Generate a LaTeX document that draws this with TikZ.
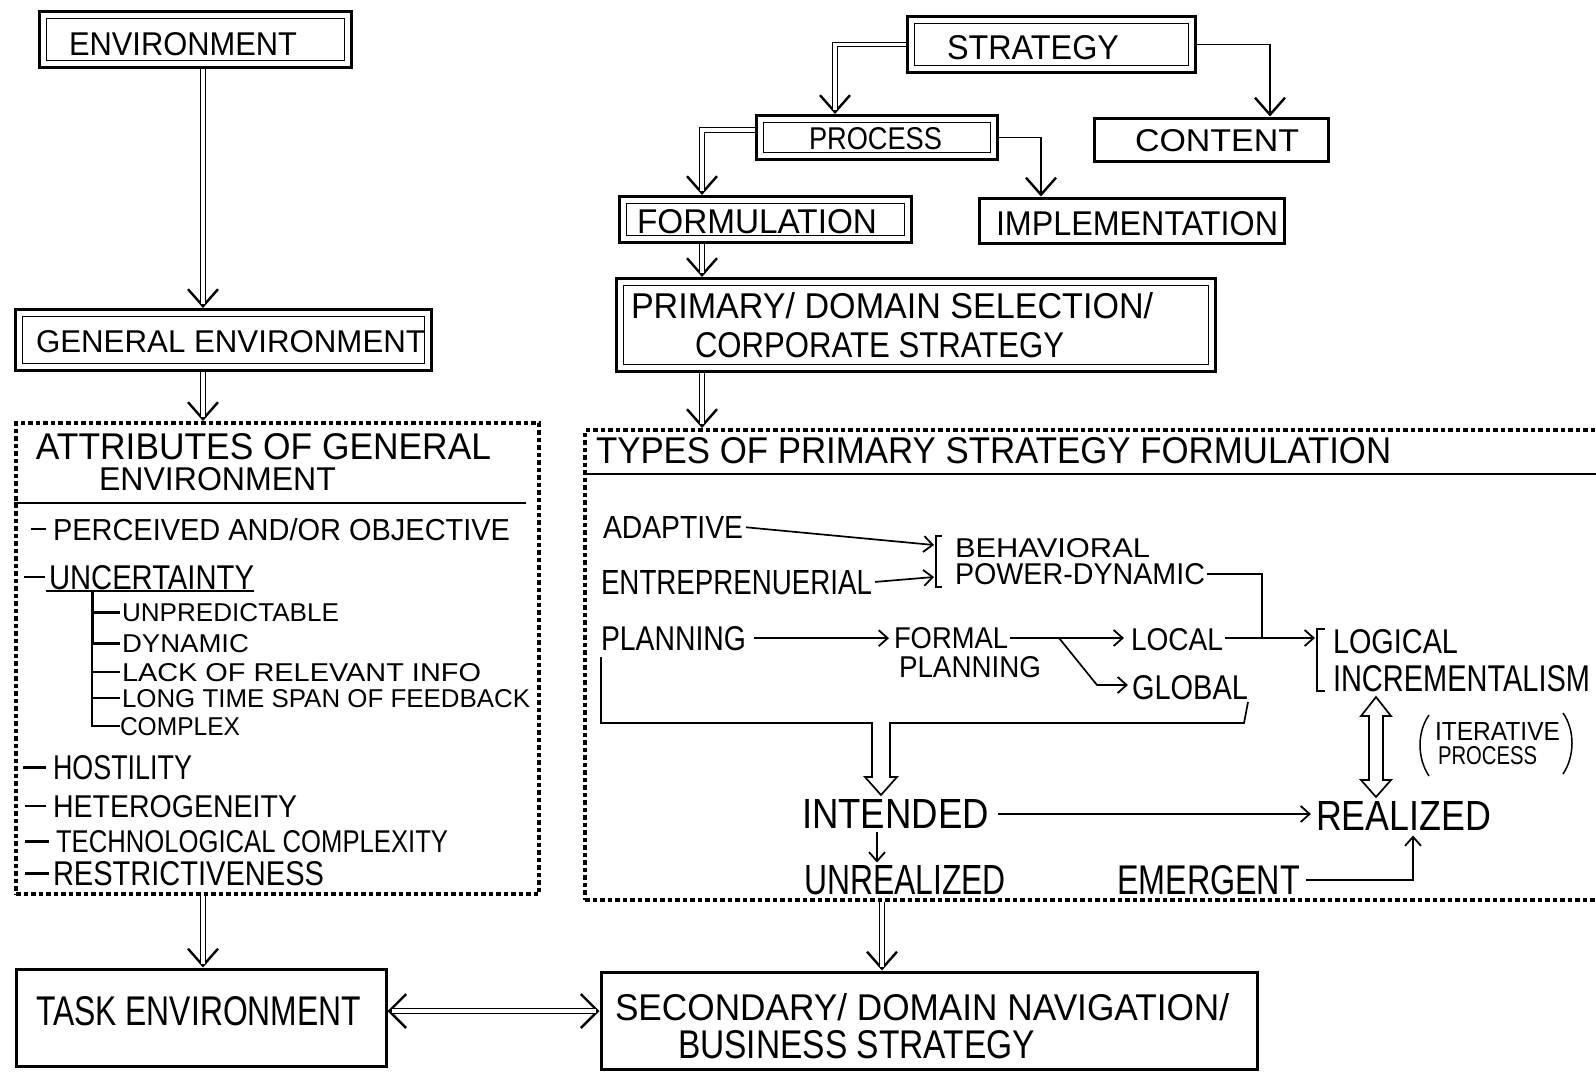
\documentclass[tikz,border=0pt]{standalone}
\usepackage{fontspec}
\setmainfont{Liberation Sans}
\usepackage{graphicx}
\usetikzlibrary{arrows.meta}
% text set to a given width and cap height (in pt)
\newcommand\fitt[3]{\resizebox{#1pt}{#2pt}{#3}}
% double-line connector with an open V head
\newcommand\dblcon[1]{\draw[vtipline] #1; \draw[dshaft] #1;}
\tikzset{
  dbox/.style={draw, line width=3pt, inner sep=0pt, outer sep=1.5pt,
    path picture={\draw[line width=1.4pt]
      ([shift={(7pt,-7pt)}]path picture bounding box.north west) rectangle
      ([shift={(-7pt,7pt)}]path picture bounding box.south east);}},
  sbox/.style={draw, line width=3pt, inner sep=0pt, outer sep=1.5pt},
  dotbox/.style={draw, line width=4pt, dash pattern=on 4.5pt off 3pt, inner sep=0pt, outer sep=2pt},
  txt/.style={anchor=base west, inner sep=0pt, outer sep=0pt},
  bigtip/.style={-{Straight Barb[length=17pt,width=30pt,line width=2.4pt]}},
  vtipline/.style={line width=1.2pt, bigtip},
  dshaft/.style={line width=1.1pt, double=white, double distance=3.2pt, shorten >=4pt},
  sarrow/.style={line width=1.4pt, bigtip},
  iline/.style={line width=1.7pt, line join=miter},
  iarrow/.style={line width=1.7pt, -{Straight Barb[length=9pt,width=16pt,line width=1.8pt]}},
}
\begin{document}
\begin{tikzpicture}[x=1pt, y=-1pt]
\fill[white] (0,0) rectangle (1596,1072);
\useasboundingbox (0,0) rectangle (1596,1072);

% ---------- boxes ----------
\node[dbox, minimum width=312pt, minimum height=56pt] (envbox) at (195.5,39.5) {};
\node[dbox, minimum width=416pt, minimum height=61pt] (genvbox) at (223.5,340) {};
\node[dotbox, minimum width=523pt, minimum height=471pt] (attrbox) at (277.5,658.5) {};
\node[sbox, minimum width=370pt, minimum height=97pt] (taskbox) at (201,1017.5) {};

\node[dbox, minimum width=288pt, minimum height=56pt] (stratbox) at (1051.5,44.5) {};
\node[dbox, minimum width=241pt, minimum height=44pt] (procbox) at (877,137.5) {};
\node[sbox, minimum width=234pt, minimum height=43pt] (contentbox) at (1211,139.5) {};
\node[dbox, minimum width=292pt, minimum height=46pt] (formbox) at (765.5,219.5) {};
\node[sbox, minimum width=305pt, minimum height=45pt] (implbox) at (1131.5,220.5) {};
\node[dbox, minimum width=599pt, minimum height=93pt] (primbox) at (916,325) {};
\node[dotbox, minimum width=1035pt, minimum height=470pt] (typesbox) at (1102.5,665) {};
\node[sbox, minimum width=656pt, minimum height=97pt] (secbox) at (929,1020.5) {};

% ---------- box labels ----------
\node[txt] (tenv) at (69,55.5) {\fitt{228}{23}{ENVIRONMENT}};
\node[txt] (tgenv) at (36,352) {\fitt{389}{22}{GENERAL ENVIRONMENT}};
\node[txt] (tstrat) at (947,59) {\fitt{172}{24}{STRATEGY}};
\node[txt] (tproc) at (809,149) {\fitt{133}{22}{PROCESS}};
\node[txt] (tcontent) at (1135,151) {\fitt{164}{22}{CONTENT}};
\node[txt] (tform) at (637,233) {\fitt{240}{24}{FORMULATION}};
\node[txt] (timpl) at (996,235) {\fitt{282}{24}{IMPLEMENTATION}};
\node[txt] (tprim1) at (631,318) {\fitt{522}{26}{PRIMARY/ DOMAIN SELECTION/}};
\node[txt] (tprim2) at (695,357.5) {\fitt{369}{25}{CORPORATE STRATEGY}};
\node[txt] (ttask) at (36,1025.5) {\fitt{325}{29}{TASK ENVIRONMENT}};
\node[txt] (tsec1) at (615,1020) {\fitt{614}{27}{SECONDARY/ DOMAIN NAVIGATION/}};
\node[txt] (tsec2) at (678,1058) {\fitt{357}{28}{BUSINESS STRATEGY}};

% ---------- attributes of the general environment ----------
\node[txt] (tattr1) at (36,459) {\fitt{455}{26}{ATTRIBUTES OF GENERAL}};
\node[txt] (tattr2) at (99,490.5) {\fitt{237}{23}{ENVIRONMENT}};
\draw[line width=2.6pt] (attrbox.west |- 0,503) -- (526,503);

\node[txt] (perc) at (53,540) {\fitt{457}{22}{PERCEIVED AND/OR OBJECTIVE}};
\node[txt] (unc) at (49,589) {\fitt{205}{24}{UNCERTAINTY}};
\node[txt] (unpr) at (122,621) {\fitt{217}{18}{UNPREDICTABLE}};
\node[txt] (dyn) at (122,652) {\fitt{127}{18}{DYNAMIC}};
\node[txt] (lack) at (122,681) {\fitt{359}{18}{LACK OF RELEVANT INFO}};
\node[txt] (long) at (122,707) {\fitt{408}{18}{LONG TIME SPAN OF FEEDBACK}};
\node[txt] (cmplx) at (120,735) {\fitt{120}{18}{COMPLEX}};
\node[txt] (host) at (53,779) {\fitt{139}{24}{HOSTILITY}};
\node[txt] (hetero) at (53,817) {\fitt{244}{22}{HETEROGENEITY}};
\node[txt] (techc) at (56,852) {\fitt{392}{22}{TECHNOLOGICAL COMPLEXITY}};
\node[txt] (restr) at (53,885) {\fitt{271}{24}{RESTRICTIVENESS}};

% item dashes
\draw[line width=1.6pt] (31,529) -- (46,529);
\draw[line width=1.6pt] (24,577) -- (45,577);
\draw[line width=3pt] (23,767) -- (46,767);
\draw[line width=1.6pt] (25,806) -- (46,806);
\draw[line width=3pt] (25,841) -- (49,841);
\draw[line width=3pt] (25,873) -- (49,873);
% underline and tree of uncertainty
\draw[line width=2pt] (46,591) -- (254,591);
\draw[line width=3pt] (92,591) -- (92,643);
\draw[line width=3pt] (92,612) -- (120,612);
\draw[line width=3pt] (92,643) -- (120,643);
\draw[line width=1.5pt] (92,643) -- (92,726) -- (120,726);
\draw[line width=1.5pt] (92,672) -- (120,672);
\draw[line width=1.5pt] (92,698) -- (120,698);

% ---------- types of primary strategy formulation ----------
\node[txt] (ttypes) at (596,463) {\fitt{795}{26}{TYPES OF PRIMARY STRATEGY FORMULATION}};
\draw[line width=2.6pt] (typesbox.west |- 0,474) -- (1600,474);

\node[txt] (adaptive) at (603,538) {\fitt{140}{22}{ADAPTIVE}};
\node[txt] (entre) at (601,594) {\fitt{271}{24}{ENTREPRENUERIAL}};
\node[txt] (planning) at (601,650) {\fitt{145}{24}{PLANNING}};
\node[txt] (behav) at (955,557) {\fitt{195}{19}{BEHAVIORAL}};
\node[txt] (power) at (955,584) {\fitt{250}{21}{POWER-DYNAMIC}};
\node[txt] (formal) at (894,648) {\fitt{114}{21}{FORMAL}};
\node[txt] (formal2) at (899,677) {\fitt{142}{21}{PLANNING}};
\node[txt] (local) at (1131,650) {\fitt{92}{22}{LOCAL}};
\node[txt] (global) at (1132,699) {\fitt{116}{24}{GLOBAL}};
\node[txt] (logical) at (1333,653) {\fitt{125}{24}{LOGICAL}};
\node[txt] (increm) at (1333,691) {\fitt{257}{26}{INCREMENTALISM}};
\node[txt] (iter1) at (1435,740) {\fitt{125}{18}{ITERATIVE}};
\node[txt] (iter2) at (1438,764) {\fitt{99}{18}{PROCESS}};
\node[txt] (intended) at (802,828.5) {\fitt{187}{29}{INTENDED}};
\node[txt] (realized) at (1316,830.5) {\fitt{175}{29}{REALIZED}};
\node[txt] (unreal) at (804,894.5) {\fitt{202}{29}{UNREALIZED}};
\node[txt] (emergent) at (1117,894.5) {\fitt{183}{29}{EMERGENT}};

% brackets
\coordinate (brA) at (934,545);
\coordinate (brB) at (934,577);
\coordinate (brC) at (1315,638);
\coordinate (jn) at (1262,638);
\coordinate (fb) at (1059,638);
\coordinate (fb2) at (1097,685);
\draw[iline] (942,536) -- (936,536) -- (936,587) -- (942,587);
\draw[iline] (1325,629) -- (1317,629) -- (1317,691) -- (1325,691);

% inner connectors
\draw[iarrow, shorten <=3pt] (adaptive.east) -- (brA);
\draw[iarrow, shorten <=3pt] (entre.east) -- (brB);
\draw[iline, shorten <=2pt] (power.east) -| (jn);
\draw[iarrow, shorten <=8pt, shorten >=5pt] (planning.east) -- (formal.west |- planning.east);
\draw[iarrow, shorten <=2pt, shorten >=7pt] (formal.east |- fb) -- (local.west |- fb);
\draw[iarrow, shorten >=4pt] (fb) -- (fb2) -- (global.west |- fb2);
\draw[iarrow, shorten <=2pt] (local.east |- brC) -- (brC);
\draw[iarrow, shorten <=9pt, shorten >=5pt] (intended.east) -- (realized.west |- intended.east);
\coordinate (uc) at (877,0);
\draw[iarrow, shorten <=3pt, shorten >=3pt] (intended.south -| uc) -- (unreal.north -| uc);
\coordinate (ec) at (1413,0);
\draw[iarrow, shorten <=6pt, shorten >=5pt] (emergent.east) -| (realized.south -| ec);

% planning branches gathered into the hollow arrow towards INTENDED
\draw[iline] (planning.south west |- 0,657) -- (601,723) -- (872,723) -- (872,777)
  -- (865,777) -- (881,795) -- (897,777) -- (890,777) -- (890,723)
  -- (1244,723) -- (global.south east |- 0,702);

% iterative two-way hollow arrow
\draw[iline] (1376,697) -- (1361,716) -- (1369,716) -- (1369,780) -- (1361,780)
  -- (1376,797) -- (1391,780) -- (1383,780) -- (1383,716) -- (1391,716) -- cycle;
% parentheses round the iterative note
\draw[line width=1.5pt] (1429,715) .. controls (1417,732) and (1417,758) .. (1429,776);
\draw[line width=1.5pt] (1563,713) .. controls (1575,730) and (1575,756) .. (1563,774);

% ---------- main connectors ----------
\coordinate (lc) at (203,0);
\coordinate (rc) at (702,0);
\coordinate (mc) at (882,0);
\coordinate (pc) at (835,0);
\coordinate (cc) at (1270,0);
\coordinate (ic) at (1041,0);
\coordinate (ty) at (0,1011);

\dblcon{(envbox.south -| lc) -- (genvbox.north -| lc)}
\dblcon{(genvbox.south -| lc) -- (attrbox.north -| lc)}
\dblcon{(attrbox.south -| lc) -- (taskbox.north -| lc)}
\dblcon{(stratbox.west) -| (procbox.north -| pc)}
\dblcon{(procbox.west |- 0,130) -| (formbox.north -| rc)}
\dblcon{(formbox.south -| rc) -- (primbox.north -| rc)}
\dblcon{(primbox.south -| rc) -- (typesbox.north -| rc)}
\dblcon{(typesbox.south -| mc) -- (secbox.north -| mc)}
\draw[sarrow] (stratbox.east) -| (contentbox.north -| cc);
\draw[sarrow] (procbox.east) -| (implbox.north -| ic);

% two-way link between task environment and business strategy
\draw[line width=1.2pt, {Straight Barb[length=17pt,width=34pt,line width=2.4pt]}-{Straight Barb[length=17pt,width=34pt,line width=2.4pt]}]
  (taskbox.east |- ty) -- (secbox.west |- ty);
\draw[line width=1.1pt, double=white, double distance=4pt, shorten >=4pt, shorten <=4pt]
  (taskbox.east |- ty) -- (secbox.west |- ty);
\end{tikzpicture}
\end{document}
